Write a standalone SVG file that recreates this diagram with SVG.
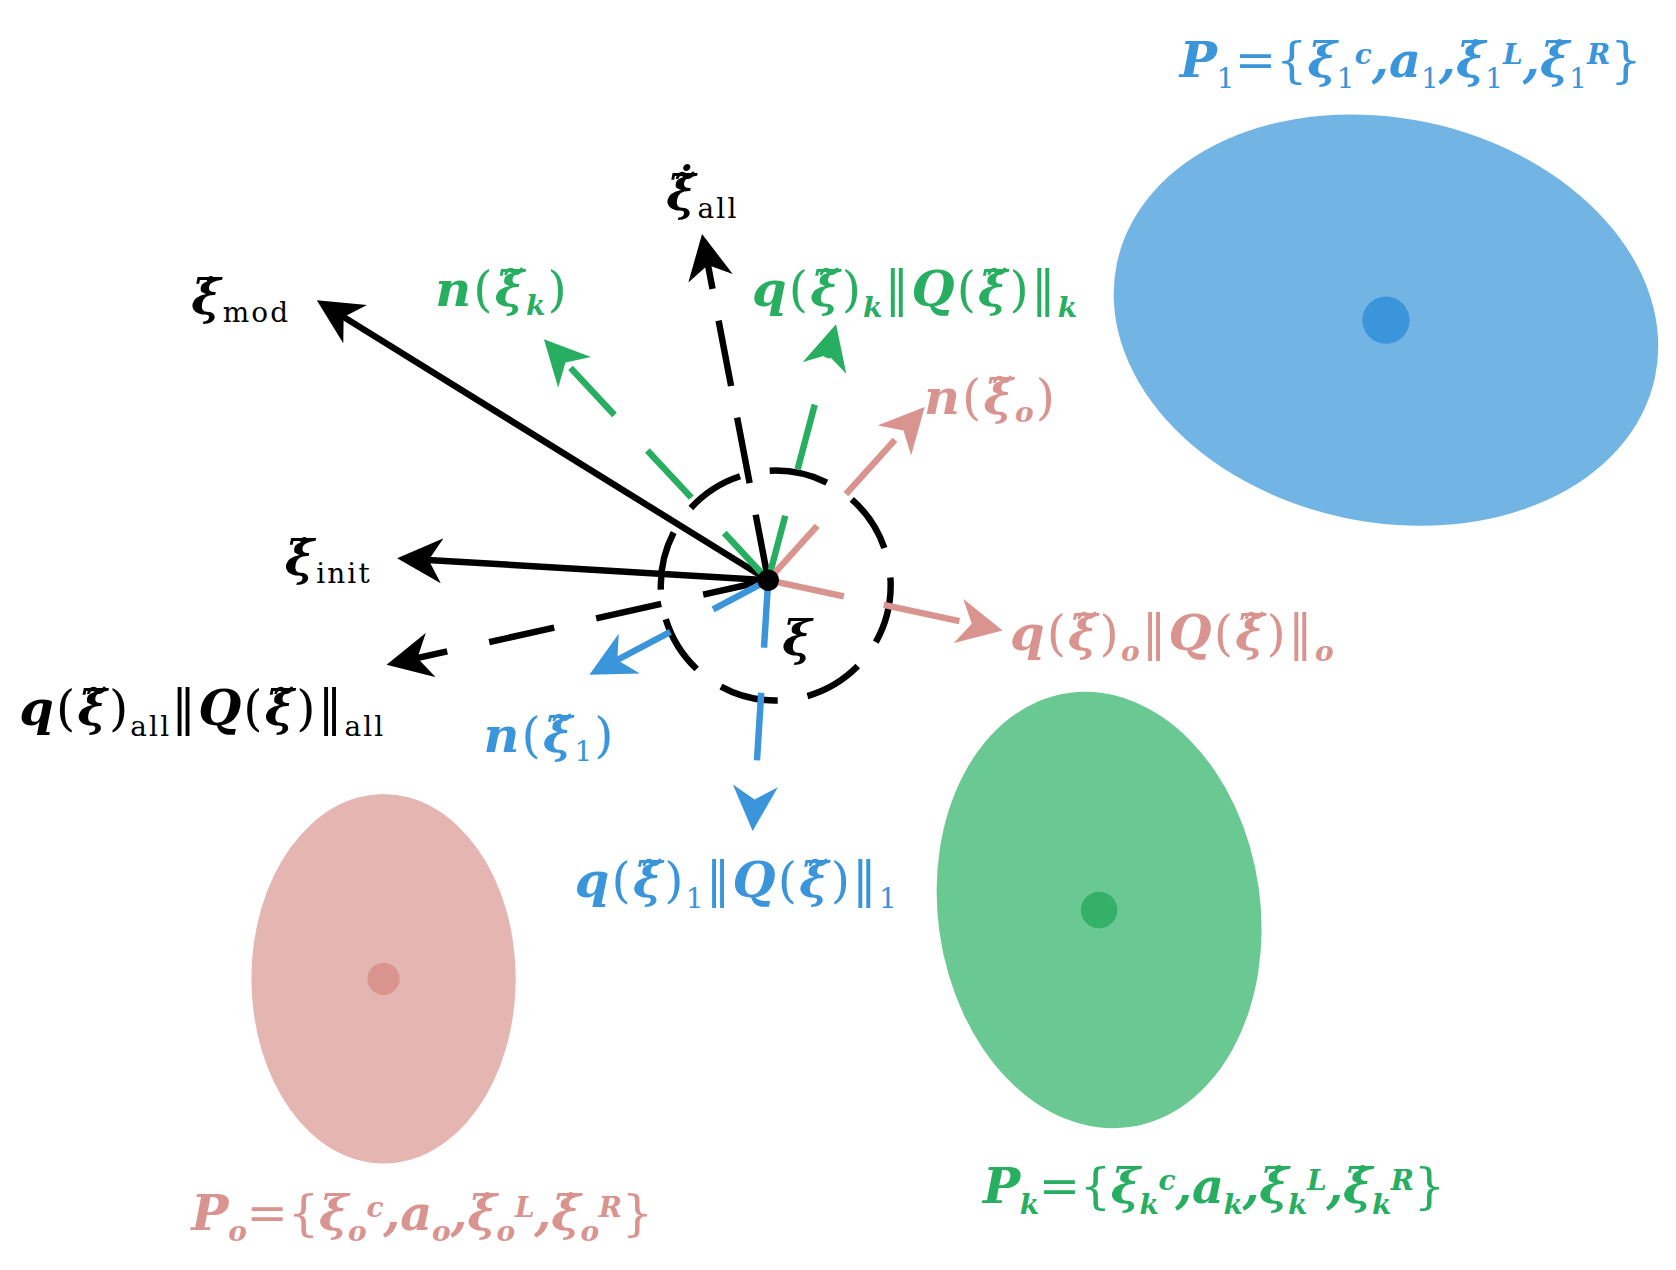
<svg xmlns="http://www.w3.org/2000/svg" width="1676" height="1270" viewBox="0 0 1676 1270">
<defs>
<style>
.t{font-family:"DejaVu Serif","Liberation Serif",serif;font-style:italic;font-weight:bold;font-size:46px;letter-spacing:2px}
.u{letter-spacing:0}
.r{font-style:normal;font-weight:normal}
.s{font-size:26px}
.k{fill:#000}.b{fill:#3a95db}.g{fill:#27ae60}.p{fill:#d9948f}
.ln{fill:none;stroke-width:6;stroke-linecap:butt}
</style>
<marker id="mk" viewBox="0 0 10 10" refX="8" refY="5" markerWidth="7" markerHeight="7" orient="auto"><path d="M0,0L10,5L0,10L3,5z" fill="#000"/></marker>
<marker id="mg" viewBox="0 0 10 10" refX="8" refY="5" markerWidth="7" markerHeight="7" orient="auto"><path d="M0,0L10,5L0,10L3,5z" fill="#27ae60"/></marker>
<marker id="mp" viewBox="0 0 10 10" refX="8" refY="5" markerWidth="7" markerHeight="7" orient="auto"><path d="M0,0L10,5L0,10L3,5z" fill="#d9948f"/></marker>
<marker id="mb" viewBox="0 0 10 10" refX="8" refY="5" markerWidth="7" markerHeight="7" orient="auto"><path d="M0,0L10,5L0,10L3,5z" fill="#3a95db"/></marker>
</defs>
<rect width="1676" height="1270" fill="#fff"/>
<g transform="scale(1.0744)">
<g id="set1"><ellipse cx="1290" cy="298" rx="256" ry="188" transform="rotate(12 1290 298)" fill="#72b5e4"/><circle cx="1290" cy="298" r="22" fill="#3a95db"/></g>
<g id="setk"><ellipse cx="1023" cy="847" rx="150" ry="204" transform="rotate(-8 1023 847)" fill="#6ac892"/><circle cx="1023" cy="847" r="17" fill="#35b06a"/></g>
<g id="seto"><ellipse cx="357" cy="911" rx="123" ry="172" fill="#e4b5b1"/><circle cx="357" cy="911" r="15" fill="#d9948f"/></g>
<g id="connectors">
<circle cx="722" cy="545" r="107" class="ln" stroke="#000" stroke-dasharray="55 28"/>
<line x1="715" y1="540" x2="302" y2="284" class="ln" stroke="#000" marker-end="url(#mk)"/>
<line x1="715" y1="540" x2="378" y2="520" class="ln" stroke="#000" marker-end="url(#mk)"/>
<line x1="715" y1="540" x2="368" y2="617" class="ln" stroke="#000" stroke-dasharray="62 40" marker-end="url(#mk)"/>
<line x1="715" y1="540" x2="655" y2="226" class="ln" stroke="#000" stroke-dasharray="62 30" marker-end="url(#mk)"/>
<line x1="715" y1="540" x2="512" y2="322" class="ln" stroke="#27ae60" stroke-dasharray="60 45" marker-end="url(#mg)"/>
<line x1="715" y1="540" x2="776" y2="310" class="ln" stroke="#27ae60" stroke-dasharray="62 45" marker-end="url(#mg)"/>
<line x1="715" y1="540" x2="855" y2="385" class="ln" stroke="#d9948f" stroke-dasharray="68 40" marker-end="url(#mp)"/>
<line x1="715" y1="540" x2="925" y2="585" class="ln" stroke="#d9948f" stroke-dasharray="72 38" marker-end="url(#mp)"/>
<line x1="715" y1="540" x2="556" y2="624" class="ln" stroke="#3a95db" stroke-dasharray="58 45" marker-end="url(#mb)"/>
<line x1="715" y1="540" x2="701" y2="765" class="ln" stroke="#3a95db" stroke-dasharray="63 42" marker-end="url(#mb)"/>
<circle cx="715" cy="540" r="10" fill="#000"/>
</g>
<g id="labels">
<text class="t u b" x="1098" y="72" textLength="430" lengthAdjust="spacing">P<tspan class="r s" dy="10">1</tspan><tspan class="r" dy="-10">={</tspan><tspan>ξ</tspan><tspan class="r s" dy="10">1</tspan><tspan class="s" dy="-22">c</tspan><tspan dy="12">,a</tspan><tspan class="r s" dy="10">1</tspan><tspan dy="-10">,ξ̇</tspan><tspan class="r s" dy="10">1</tspan><tspan class="s" dy="-22">L</tspan><tspan dy="12">,ξ̇</tspan><tspan class="r s" dy="10">1</tspan><tspan class="s" dy="-22">R</tspan><tspan class="r" dy="12">}</tspan></text>
<text class="t k" x="620" y="195">ξ̃̇<tspan class="r s" dy="8">all</tspan></text>
<text class="t k" x="178" y="292">ξ̇<tspan class="r s" dy="8">mod</tspan></text>
<text class="t g" x="405" y="285">n<tspan class="r">(</tspan>ξ̃<tspan class="s" dy="8">k</tspan><tspan class="r" dy="-8">)</tspan></text>
<text class="t g" x="700" y="285">q<tspan class="r">(</tspan>ξ̃<tspan class="r">)</tspan><tspan class="s" dy="10">k</tspan><tspan class="r" dy="-10">‖</tspan>Q<tspan class="r">(</tspan>ξ̃<tspan class="r">)‖</tspan><tspan class="s" dy="10">k</tspan></text>
<text class="t p" x="860" y="385">n<tspan class="r">(</tspan>ξ̃<tspan class="s" dy="8">o</tspan><tspan class="r" dy="-8">)</tspan></text>
<text class="t k" x="265" y="535">ξ̇<tspan class="r s" dy="8">init</tspan></text>
<text class="t k" x="728" y="610">ξ</text>
<text class="t p" x="940" y="605">q<tspan class="r">(</tspan>ξ̃<tspan class="r">)</tspan><tspan class="s" dy="10">o</tspan><tspan class="r" dy="-10">‖</tspan>Q<tspan class="r">(</tspan>ξ̃<tspan class="r">)‖</tspan><tspan class="s" dy="10">o</tspan></text>
<text class="t k" x="18" y="675">q<tspan class="r">(</tspan>ξ̃<tspan class="r">)</tspan><tspan class="r s" dy="10">all</tspan><tspan class="r" dy="-10">‖</tspan>Q<tspan class="r">(</tspan>ξ̃<tspan class="r">)‖</tspan><tspan class="r s" dy="10">all</tspan></text>
<text class="t b" x="450" y="700">n<tspan class="r">(</tspan>ξ̃<tspan class="r s" dy="8">1</tspan><tspan class="r" dy="-8">)</tspan></text>
<text class="t b" x="535" y="835">q<tspan class="r">(</tspan>ξ̃<tspan class="r">)</tspan><tspan class="r s" dy="10">1</tspan><tspan class="r" dy="-10">‖</tspan>Q<tspan class="r">(</tspan>ξ̃<tspan class="r">)‖</tspan><tspan class="r s" dy="10">1</tspan></text>
<text class="t u p" x="178" y="1145" textLength="430" lengthAdjust="spacing">P<tspan class="s" dy="10">o</tspan><tspan class="r" dy="-10">={</tspan><tspan>ξ</tspan><tspan class="s" dy="10">o</tspan><tspan class="s" dy="-22">c</tspan><tspan dy="12">,a</tspan><tspan class="s" dy="10">o</tspan><tspan dy="-10">,ξ̇</tspan><tspan class="s" dy="10">o</tspan><tspan class="s" dy="-22">L</tspan><tspan dy="12">,ξ̇</tspan><tspan class="s" dy="10">o</tspan><tspan class="s" dy="-22">R</tspan><tspan class="r" dy="12">}</tspan></text>
<text class="t u g" x="915" y="1120" textLength="430" lengthAdjust="spacing">P<tspan class="s" dy="10">k</tspan><tspan class="r" dy="-10">={</tspan><tspan>ξ</tspan><tspan class="s" dy="10">k</tspan><tspan class="s" dy="-22">c</tspan><tspan dy="12">,a</tspan><tspan class="s" dy="10">k</tspan><tspan dy="-10">,ξ̇</tspan><tspan class="s" dy="10">k</tspan><tspan class="s" dy="-22">L</tspan><tspan dy="12">,ξ̇</tspan><tspan class="s" dy="10">k</tspan><tspan class="s" dy="-22">R</tspan><tspan class="r" dy="12">}</tspan></text>
</g>
</g>
</svg>
